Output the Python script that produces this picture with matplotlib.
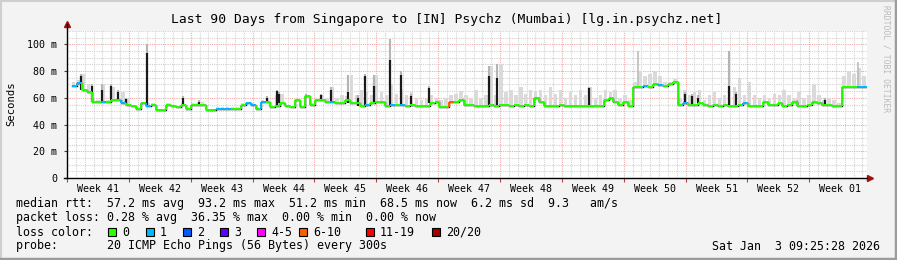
import numpy as np
import matplotlib.pyplot as plt
from matplotlib.collections import LineCollection
from matplotlib.lines import Line2D

W, H = 897, 260
MONO = 'DejaVu Sans Mono'

# median rtt in ms, one sample every 0.5625 day (90 days ago -> now)
median = [69, 71, 66, 64, 57, 57, 57, 57, 58, 58,
          56, 55, 54, 52, 56, 54, 55, 51, 51, 55,
          54, 53, 55, 52, 55, 55, 55, 51, 51, 52,
          52, 52, 52, 52, 55, 56, 55, 52, 57, 57,
          53, 54, 56, 54, 53, 58, 53, 61, 55, 58,
          58, 57, 57, 56, 56, 58, 56, 56, 54, 55,
          56, 57, 57, 54, 55, 55, 55, 54, 55, 54,
          54, 54, 56, 57, 53, 53, 57, 57, 58, 55,
          55, 54, 54, 54, 55, 54, 55, 55, 54, 55,
          54, 55, 54, 60, 57, 54, 54, 54, 55, 54,
          54, 54, 54, 54, 54, 54, 54, 58, 60, 57,
          55, 57, 54, 68, 68, 69, 68, 70, 69.6, 68.5,
          70, 72, 54.7, 56, 55, 55, 56, 55, 54, 55,
          54, 55, 54, 54, 55, 56, 54, 54, 54, 57,
          55, 55, 56, 54, 55, 57, 54, 54, 55, 57,
          56, 55, 55, 54, 54, 68, 68, 68, 68, 68, 68]

# upper edge of the grey smoke (ms)
smoke_top = [72, 73, 78, 70, 60, 58, 70, 58, 68, 59,
             64, 60, 55, 53, 57, 56, 56, 52, 52, 56,
             55, 54, 56, 53, 56, 56, 57, 52, 52, 53,
             53, 53, 53, 53, 56, 57, 56, 53, 58, 60,
             54, 62, 63, 55, 54, 59, 54, 62, 56, 59,
             62, 60, 68, 60, 62, 61, 77, 62, 66, 64,
             62, 77, 64, 62, 70, 63, 66, 62, 64, 60,
             58, 59, 62, 60, 58, 60, 62, 63, 65, 62,
             60, 66, 60, 62, 84, 62, 85, 64, 66, 62,
             68, 63, 66, 64, 66, 62, 68, 63, 66, 60,
             64, 62, 66, 62, 68, 60, 62, 66, 64, 66,
             60, 62, 58, 72, 80, 76, 78, 80, 76, 72,
             72, 74, 60, 66, 62, 64, 66, 58, 62, 64,
             60, 62, 66, 68, 75, 62, 72, 62, 60, 62,
             60, 63, 62, 66, 62, 60, 64, 60, 62, 70,
             62, 58, 60, 58, 56, 76, 80, 78, 82, 76, 70]

# loss bucket per sample (0 = no loss, 1 = one ping lost, 6 = 6-10 lost)
loss = [1, 1, 0, 0, 0, 0, 1, 0, 0, 0,
        1, 0, 0, 0, 0, 1, 0, 0, 0, 0,
        0, 0, 0, 0, 0, 0, 0, 0, 0, 1,
        1, 1, 0, 0, 0, 1, 1, 0, 1, 0,
        0, 0, 0, 0, 0, 0, 0, 0, 0, 0,
        0, 0, 1, 0, 0, 0, 0, 0, 0, 1,
        0, 0, 0, 0, 1, 0, 1, 0, 0, 0,
        0, 0, 0, 0, 0, 0, 6, 0, 0, 0,
        0, 0, 0, 0, 0, 0, 0, 0, 0, 0,
        0, 0, 0, 0, 0, 0, 0, 0, 0, 0,
        0, 0, 0, 0, 0, 0, 0, 0, 0, 0,
        0, 0, 0, 0, 0, 1, 0, 0, 1, 0,
        0, 0, 0, 1, 0, 0, 0, 0, 0, 0,
        0, 0, 0, 0, 0, 1, 0, 0, 0, 0,
        0, 0, 0, 0, 0, 0, 0, 0, 0, 0,
        0, 0, 0, 0, 0, 0, 0, 0, 1, 1, 0]

# short median peaks (day offset, peak ms, top of smoke above it)
spike_day = [-88.9, -87.75, -86.6, -85.6, -84.7, -83.8, -81.45, -77.4, -75.6,
             -67.95, -66.8, -66.5, -63.45, -61.75, -60.6, -58.7, -57.6, -56.8,
             -55.8, -54.0, -52.75, -51.6, -49.6, -42.75, -41.85, -31.5,
             -20.6, -19.8, -19.1, -15.6, -14.85, -7.9, -4.7]
spike_ms = [76, 68.6, 66, 68.5, 64, 59, 93.2, 60, 57,
            60, 65, 63, 62, 62, 66, 64, 60, 76,
            69, 88, 77, 61, 67, 76, 75, 67,
            63, 61, 60, 68.6, 63, 57, 58]
spike_smoke = [78, 70, 70, 70, 66, 60, 100, 61, 58,
               61, 66, 64, 63, 63, 68, 77, 62, 78,
               77, 104, 80, 63, 69, 84, 85, 68,
               64, 63, 62, 95, 64, 58, 60]

# thin grey-only streaks (day offset, top ms)
streak_day = [-25.9, -1.0]
streak_ms = [95, 87]

week_names = ['Week 41', 'Week 42', 'Week 43', 'Week 44', 'Week 45', 'Week 46',
              'Week 47', 'Week 48', 'Week 49', 'Week 50', 'Week 51', 'Week 52',
              'Week 01']
last_monday = -6.525  # start of week 01, days before now

loss_colors = {0: '#26ff00', 1: '#00b8ff', 2: '#0059ff', 3: '#5e00ff',
               4: '#ff00ff', 6: '#ff5e00', 11: '#ff0000', 20: '#a10000'}
loss_labels = ['0', '1', '2', '3', '4-5', '6-10', '11-19', '20/20']

fig = plt.figure(figsize=(W / 100, H / 100), dpi=100)
fig.patch.set_facecolor('#f3f3f3')
ax = fig.add_axes([67 / W, (H - 178) / H, 800 / W, (178 - 31) / H])
ax.set_facecolor('white')
ax.set_xlim(-90, 0)
ax.set_ylim(0, 110)

# grid
for k in range(-83, 7):
    d = last_monday + k
    if k % 7 == 0:
        ax.axvline(d, color='#f4a8a8', lw=0.8, ls=(0, (1, 1)), zorder=1)
    else:
        ax.axvline(d, color='#d2d2d2', lw=0.8, ls=(0, (1, 1)), zorder=0)
for v in range(5, 111, 5):
    if v % 20 == 0:
        ax.axhline(v, color='#f4a8a8', lw=0.8, ls=(0, (1, 1)), zorder=1)
    else:
        ax.axhline(v, color='#d2d2d2', lw=0.8, ls=(0, (1, 1)), zorder=0)

n = len(median)
step = 90 / (n - 1)
days = -90 + step * np.arange(n)
med = np.array(median, dtype=float)
top = np.array(smoke_top, dtype=float)

# smoke
ax.bar(days, top - med, bottom=med, width=step * 0.7, align='edge',
       color='#dadada', lw=0, zorder=2)
base_at = med[np.clip(np.round((np.array(spike_day) + 90) / step).astype(int), 0, n - 1)]
ax.vlines(spike_day, spike_ms, spike_smoke, color='#b4b4b4', lw=1.5, zorder=2)
s_base = med[np.clip(np.round((np.array(streak_day) + 90) / step).astype(int), 0, n - 1)]
ax.vlines(streak_day, s_base, streak_ms, color='#bdbdbd', lw=1.2, zorder=2)

# median in black, peaks
ax.step(days, med, where='post', color='black', lw=1, zorder=3)
ax.vlines(spike_day, base_at, spike_ms, color='#1a1a1a', lw=1.6, zorder=3)

# loss coloured median
segs, cols = [], []
for i in range(n - 1):
    segs.append([(days[i], med[i]), (days[i + 1], med[i])])
    cols.append(loss_colors[loss[i]])
    segs.append([(days[i + 1], med[i]), (days[i + 1], med[i + 1])])
    cols.append(loss_colors[loss[i + 1]])
ax.add_collection(LineCollection(segs, colors=cols, linewidths=1.4, zorder=4))

# axes
for s in ax.spines.values():
    s.set_visible(False)
ax.plot([0, 0], [0, 1.05], transform=ax.transAxes, color='black', lw=1,
        clip_on=False, zorder=5)
ax.plot([-0.004, 1.0], [0, 0], transform=ax.transAxes, color='black', lw=1,
        clip_on=False, zorder=5)
ax.plot([0], [1.05], marker='^', ms=4, color='#a01010', transform=ax.transAxes,
        clip_on=False)
ax.plot([1.004], [0], marker='>', ms=4, color='#a01010', transform=ax.transAxes,
        clip_on=False)

ax.set_yticks(range(0, 101, 20))
ax.set_yticklabels(['0'] + ['%d m' % v for v in range(20, 101, 20)],
                   fontfamily=MONO, fontsize=7.2)
ax.tick_params(axis='y', length=2, pad=5, color='#444444')
bounds = [last_monday - 7 * k for k in range(12, -1, -1)]
ax.set_xticks(bounds)
ax.set_xticklabels([])
ax.tick_params(axis='x', which='major', length=3, color='#c04040', direction='out')
ax.set_xticks([b + 3.5 for b in bounds], minor=True)
ax.set_xticklabels(week_names, minor=True, fontfamily=MONO, fontsize=7.2)
ax.tick_params(axis='x', which='minor', length=0, pad=4)

fig.text(11 / W, 1 - 104 / H, 'Seconds', rotation=90, ha='center', va='center',
         fontfamily=MONO, fontsize=7.6)
fig.text(447 / W, 1 - 19 / H,
         'Last 90 Days from Singapore to [IN] Psychz (Mumbai) [lg.in.psychz.net]',
         ha='center', va='center', fontfamily=MONO, fontsize=9.4)
fig.text(886 / W, 1 - 59 / H, 'RRDTOOL / TOBI OETIKER', rotation=270,
         ha='center', va='center', fontfamily=MONO, fontsize=5.8, color='#bbbbbb')

rows = ['median rtt:  57.2 ms avg  93.2 ms max  51.2 ms min  68.5 ms now  6.2 ms sd  9.3   am/s',
        'packet loss: 0.28 % avg  36.35 % max  0.00 % min  0.00 % now',
        'loss color:',
        'probe:       20 ICMP Echo Pings (56 Bytes) every 300s']
for j, r in enumerate(rows):
    fig.text(16 / W, 1 - (204 + 14 * j) / H, r, ha='left', va='center',
             fontfamily=MONO, fontsize=8.35)
fig.text(880 / W, 1 - 246 / H, 'Sat Jan  3 09:25:28 2026', ha='right', va='center',
         fontfamily=MONO, fontsize=8.35)

box_x = [108, 146, 183, 220, 257, 299, 366, 432]
for bx, key, lab in zip(box_x, loss_colors, loss_labels):
    fig.patches.append(plt.Rectangle((bx / W, 1 - 236 / H), 8 / W, 8 / H,
                                     transform=fig.transFigure, facecolor=loss_colors[key],
                                     edgecolor='black', lw=0.8))
    fig.text((bx + 14) / W, 1 - 232 / H, lab, ha='left', va='center',
             fontfamily=MONO, fontsize=8.35)

# frame
fig.add_artist(Line2D([0, 1], [1 - 0.5 / H, 1 - 0.5 / H], color='#cfcfcf', lw=1.5))
fig.add_artist(Line2D([0.5 / W, 0.5 / W], [0, 1], color='#cfcfcf', lw=1.5))
fig.add_artist(Line2D([0, 1], [1.2 / H, 1.2 / H], color='#9c9c9c', lw=2.5))
fig.add_artist(Line2D([1 - 1.2 / W, 1 - 1.2 / W], [0, 1], color='#9c9c9c', lw=2.5))

fig.savefig('out.png', dpi=100, facecolor=fig.get_facecolor())
